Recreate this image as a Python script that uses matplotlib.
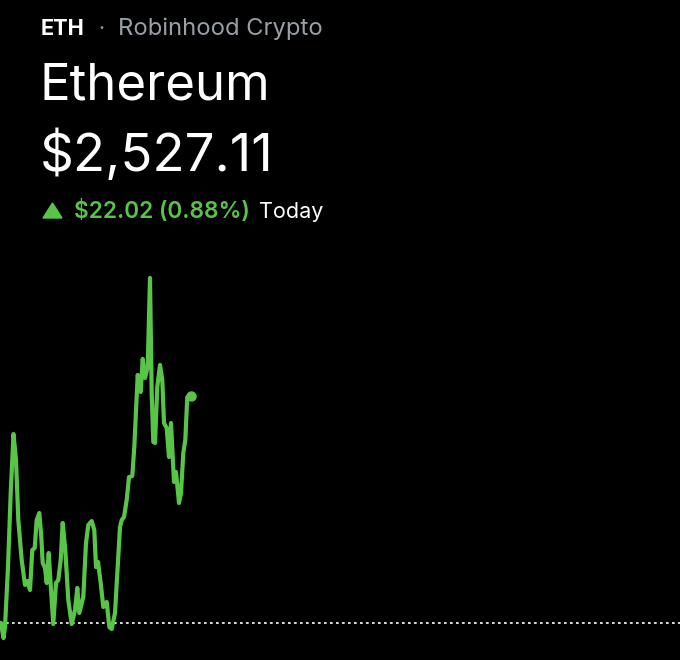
import matplotlib
matplotlib.use('Agg')
import matplotlib.pyplot as plt
from matplotlib.patches import Polygon

# minutes-ish position along the trading day (axis runs 0 to 680)
times = [0, 1, 3.5, 5, 8, 10.7, 13.5, 16, 18.3, 21.7, 25, 27.3, 30, 32.3, 34.7, 36.7, 39.3,
         41.3, 42.7, 45, 46.7, 48.7, 50.7, 53.3, 56, 58.3, 60.7, 62.7, 65.3, 68.3, 71.7,
         75, 77.3, 79.3, 83.3, 86, 88.3, 91.7, 94.3, 96, 98, 100.7, 103.3, 106.7, 109.3,
         111.7, 115, 120, 121.7, 124, 126.7, 129, 132.3, 134.3, 137.7, 140.7, 142.7, 145,
         147.7, 150, 151.7, 153.3, 155, 157.3, 160, 162.3, 164, 166.7, 169, 171, 174, 176,
         179, 181, 183.3, 185.3, 187.3, 190.7]

# change against previous close, dollars
change = [0, 0, -1.46, -0.39, 5.43, 12.61, 18.33, 15.81, 9.99, 6.11, 3.69, 4.07, 3.20, 7.08,
          7.28, 9.99, 10.67, 8.34, 5.82, 5.34, 3.88, 6.79, 3.69, -0.10, 3.88, 4.17, 6.11,
          9.70, 7.08, 2.23, -0.10, 1.26, 3.40, 0.97, 2.52, 7.76, 9.51, 9.89, 9.02, 5.43,
          5.92, 3.88, 1.55, 2.04, -0.39, -0.58, 0.97, 9.31, 9.99, 10.28, 11.93, 14.16, 14.26,
          17.07, 24.06, 22.41, 25.61, 23.77, 24.83, 33.47, 22.31, 17.56, 17.46, 22.89, 25.03,
          23.57, 19.40, 18.92, 16.10, 19.40, 13.68, 14.65, 11.64, 12.61, 16.49, 17.75, 21.92,
          22.02]

GREEN = '#58c548'

plt.rcParams['font.family'] = ['Inter', 'DejaVu Sans']

fig = plt.figure(figsize=(6.8, 6.6), dpi=100, facecolor='black')
ax = fig.add_axes([0, 0, 1, 1])
ax.set_facecolor('black')
ax.axis('off')
ax.set_xlim(0, 680)
ax.set_ylim(-3.59, 60.43)

# previous close line
ax.axhline(0, color='white', lw=1.2, dashes=(1.6, 2.0))
ax.plot(times, change, color=GREEN, lw=3.0, solid_joinstyle='round', solid_capstyle='round')
ax.plot(times[-1], change[-1], 'o', color=GREEN, ms=6.5)


def put(x, y, s, **kw):
    # x, y in picture pixels (baseline)
    fig.text(x / 680, 1 - y / 660, s, va='baseline', ha='left', **kw)


put(41, 35, 'ETH', color='white', fontsize=15.7, fontweight='bold')
put(98, 35, '·', color='#9aa0a8', fontsize=15)
put(118, 35, 'Robinhood Crypto', color='#9aa0a8', fontsize=17.1)
put(40, 100, 'Ethereum', color='white', fontsize=36.7)
put(40, 171, '$2,527.11', color='white', fontsize=38)
put(74, 218, '$22.02 (0.88%)', color=GREEN, fontsize=16.3, fontweight='semibold')
put(259, 218, 'Today', color='white', fontsize=15.5)

tri = [(43 / 680, 1 - 218 / 660), (62 / 680, 1 - 218 / 660), (52.5 / 680, 1 - 203 / 660)]
fig.add_artist(Polygon(tri, closed=True, color=GREEN, transform=fig.transFigure))

fig.savefig('out.png', dpi=100, facecolor='black')
